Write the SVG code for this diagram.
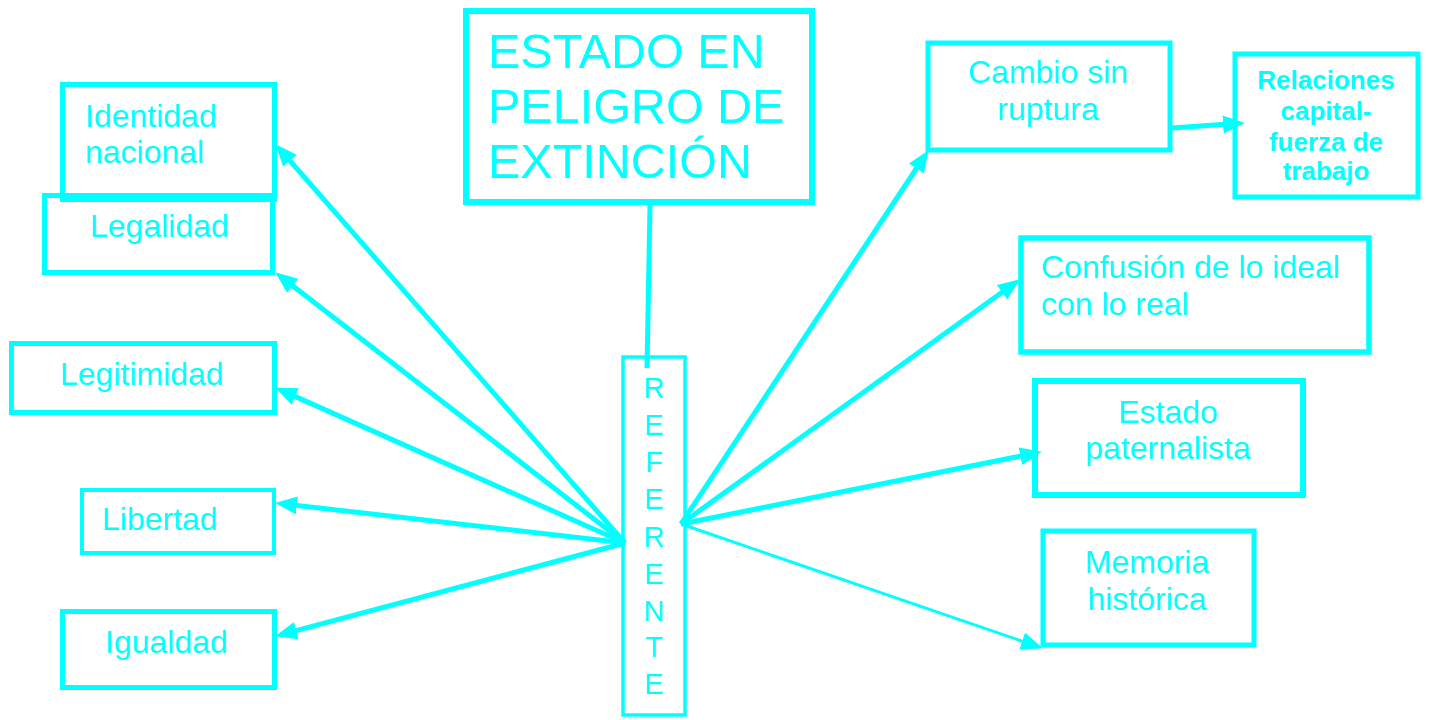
<svg xmlns="http://www.w3.org/2000/svg" width="1430" height="720" viewBox="0 0 1430 720">
<defs>
<style>
.box{fill:none;stroke:#00FFFF;stroke-width:5}
.t{fill:#00FFFF;font-family:"Liberation Sans",Arial,sans-serif;font-size:32px}
.big{font-size:48.5px}
.b{font-weight:bold;font-size:26px}
.ref{font-size:29px}
.c{text-anchor:middle}
.ln{stroke:#00FFFF;stroke-width:5;fill:none}
.thin{stroke-width:3}
</style>
<marker id="ah" markerUnits="userSpaceOnUse" markerWidth="24" markerHeight="20" refX="9" refY="9" orient="auto">
<path d="M0,0 L22,9 L0,18 Z" fill="#00FFFF"/>
</marker>
</defs>
<rect width="1430" height="720" fill="#FFFFFF"/>
<g id="n-estado">
<rect class="box" x="466" y="11" width="346" height="191" style="stroke-width:6"/>
<text class="t big" x="488" y="68">ESTADO EN</text>
<text class="t big" x="488" y="123">PELIGRO DE</text>
<text class="t big" x="488" y="178">EXTINCIÓN</text>
</g>
<g id="n-referente">
<rect class="box" x="623" y="357" width="62" height="358" style="stroke-width:3.5"/>
<text class="t ref c" x="654" y="398">R</text>
<text class="t ref c" x="654" y="435">E</text>
<text class="t ref c" x="654" y="472">F</text>
<text class="t ref c" x="654" y="509">E</text>
<text class="t ref c" x="654" y="547">R</text>
<text class="t ref c" x="654" y="584">E</text>
<text class="t ref c" x="654" y="621">N</text>
<text class="t ref c" x="654" y="657">T</text>
<text class="t ref c" x="654" y="694">E</text>
</g>
<g id="n-legalidad">
<rect class="box" x="44.5" y="195.5" width="228" height="77"/>
<text class="t" x="90" y="237">Legalidad</text>
</g>
<g id="n-identidad">
<rect class="box" x="62.5" y="84.5" width="212" height="115"/>
<text class="t" x="85" y="127">Identidad</text>
<text class="t" x="85" y="163">nacional</text>
</g>
<g id="n-legitimidad">
<rect class="box" x="11.5" y="343.5" width="263" height="69"/>
<text class="t" x="60" y="385">Legitimidad</text>
</g>
<g id="n-libertad">
<rect class="box" x="82" y="490" width="192" height="63" style="stroke-width:4"/>
<text class="t" x="102" y="530">Libertad</text>
</g>
<g id="n-igualdad">
<rect class="box" x="62.5" y="611.5" width="212" height="76"/>
<text class="t" x="105" y="653">Igualdad</text>
</g>
<g id="n-cambio">
<rect class="box" x="928" y="43" width="242" height="107"/>
<text class="t c" x="1048" y="83">Cambio sin</text>
<text class="t c" x="1048" y="120">ruptura</text>
</g>
<g id="n-relaciones">
<rect class="box" x="1235" y="54" width="183" height="143"/>
<text class="t b c" x="1326" y="89">Relaciones</text>
<text class="t b c" x="1326" y="120">capital-</text>
<text class="t b c" x="1326" y="151">fuerza de</text>
<text class="t b c" x="1326" y="180">trabajo</text>
</g>
<g id="n-confusion">
<rect class="box" x="1021" y="238" width="348" height="114" style="stroke-width:5.5"/>
<text class="t" x="1041" y="278">Confusión de lo ideal</text>
<text class="t" x="1041" y="315">con lo real</text>
</g>
<g id="n-paternalista">
<rect class="box" x="1035" y="381" width="268" height="114" style="stroke-width:6"/>
<text class="t c" x="1168" y="423">Estado</text>
<text class="t c" x="1168" y="459">paternalista</text>
</g>
<g id="n-memoria">
<rect class="box" x="1043" y="531" width="211" height="114"/>
<text class="t c" x="1147" y="573">Memoria</text>
<text class="t c" x="1147" y="610">histórica</text>
</g>
<g id="connectors">
<line class="ln" x1="650" y1="205" x2="647" y2="368"/>
<line class="ln" x1="625" y1="543" x2="284" y2="154" marker-end="url(#ah)"/>
<line class="ln" x1="625" y1="543" x2="285.5" y2="280.3" marker-end="url(#ah)"/>
<line class="ln" x1="625" y1="543" x2="287" y2="392.9" marker-end="url(#ah)"/>
<line class="ln" x1="625" y1="543" x2="287.9" y2="504.4" marker-end="url(#ah)"/>
<line class="ln" x1="625" y1="543" x2="287.6" y2="632.9" marker-end="url(#ah)"/>
<line class="ln" x1="681" y1="524" x2="921.4" y2="161" marker-end="url(#ah)"/>
<line class="ln" x1="681" y1="524" x2="1009.3" y2="287" marker-end="url(#ah)"/>
<line class="ln" x1="681" y1="524" x2="1029.2" y2="454.4" marker-end="url(#ah)"/>
<line class="ln thin" x1="681" y1="524" x2="1030.6" y2="644.1" marker-end="url(#ah)"/>
<line class="ln" x1="1172" y1="128" x2="1232" y2="123.8" marker-end="url(#ah)"/>
</g>
</svg>
